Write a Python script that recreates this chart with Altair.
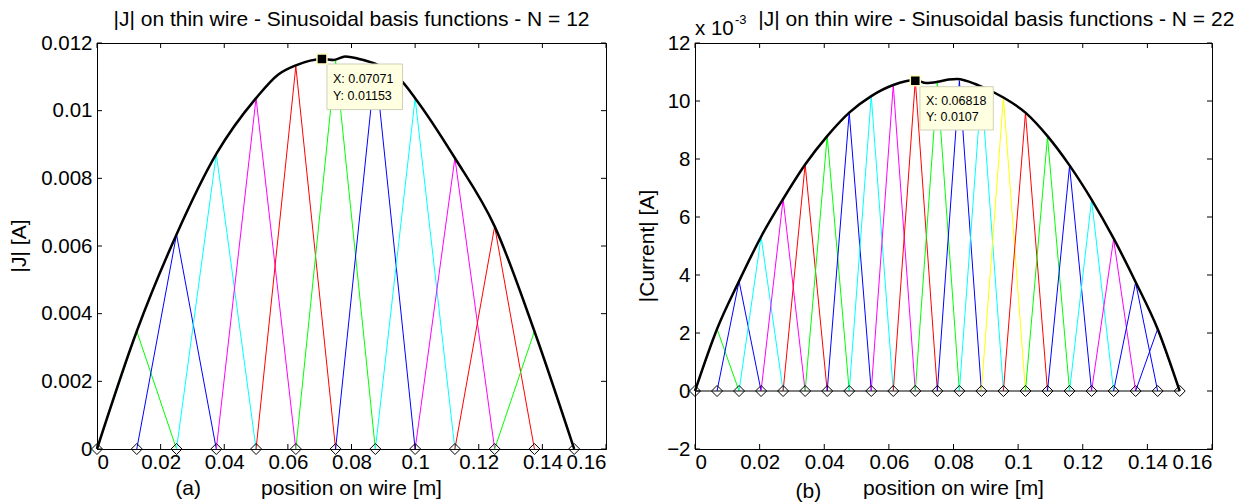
import altair as alt
import pandas as pd

FONT = "Liberation Sans"

# ---------------- data: panel (a), N = 12 ----------------
a_nodes = [0.0, 0.0125, 0.025, 0.0375, 0.05, 0.0625, 0.075, 0.0875, 0.1, 0.1125, 0.125, 0.1375, 0.15]
a_peaks = [0.00348, 0.00634, 0.00872, 0.01037, 0.01131, 0.01148, 0.01134, 0.01037, 0.0086, 0.00658, 0.00348]
a_colors = ["#00FF00", "#0000FF", "#00FFFF", "#FF00FF", "#FF0000", "#00FF00",
            "#0000FF", "#00FFFF", "#FF00FF", "#FF0000", "#00FF00"]
a_env_x = [0.0, 0.0125, 0.025, 0.0375, 0.05, 0.057, 0.0625, 0.07071, 0.0745, 0.078,
           0.0832, 0.0885, 0.0958, 0.1, 0.1125, 0.125, 0.1375, 0.15]
a_env_y = [0.0, 0.00348, 0.00634, 0.00872, 0.01037, 0.01107, 0.01134, 0.01153, 0.0115, 0.0116,
           0.01151, 0.01134, 0.01087, 0.01037, 0.0086, 0.00658, 0.00348, 0.0]
a_tip = [0.07071, 0.01153]
a_tip_text = ["X: 0.07071", "Y: 0.01153"]
a_x_ticks = [0, 0.02, 0.04, 0.06, 0.08, 0.1, 0.12, 0.14, 0.16]
a_y_ticks = [0, 0.002, 0.004, 0.006, 0.008, 0.01, 0.012]

# ---------------- data: panel (b), N = 22 (values in 1e-3 A) ----------------
b_nodes = [0.0, 0.00682, 0.01364, 0.02045, 0.02727, 0.03409, 0.04091, 0.04773, 0.05455, 0.06136,
           0.06818, 0.075, 0.08182, 0.08864, 0.09545, 0.10227, 0.10909, 0.11591, 0.12273, 0.12955,
           0.13636, 0.14318, 0.15]
b_peaks = [2.14, 3.79, 5.32, 6.62, 7.81, 8.79, 9.60, 10.17, 10.55, 10.72, 10.64,
           10.70, 10.45, 10.12, 9.60, 8.77, 7.76, 6.59, 5.24, 3.74, 2.14]
b_colors = ["#00FF00", "#0000FF", "#00FFFF", "#FF00FF", "#FF0000", "#00FF00", "#0000FF",
            "#00FFFF", "#FF00FF", "#FF0000", "#00FF00", "#0000FF", "#00FFFF", "#FFFF00",
            "#FF0000", "#00FF00", "#0000FF", "#00FFFF", "#FF00FF", "#0000FF", "#0000FF"]
b_env_x = [0.0, 0.00682, 0.01364, 0.02045, 0.02727, 0.03409, 0.04091, 0.04773, 0.05455, 0.06136,
           0.06818, 0.0716, 0.075, 0.0785, 0.0811, 0.0876, 0.09545, 0.10227, 0.10909, 0.11591,
           0.12273, 0.12955, 0.13636, 0.14318, 0.15]
b_env_y = [0.0, 2.14, 3.79, 5.32, 6.62, 7.81, 8.79, 9.60, 10.17, 10.55,
           10.72, 10.62, 10.66, 10.74, 10.76, 10.55, 10.12, 9.60, 8.79, 7.78,
           6.60, 5.26, 3.76, 2.14, 0.0]
b_tip = [0.06818, 10.7]
b_tip_text = ["X: 0.06818", "Y: 0.0107"]
b_x_ticks = [0, 0.02, 0.04, 0.06, 0.08, 0.1, 0.12, 0.14, 0.16]
b_y_ticks = [-2, 0, 2, 4, 6, 8, 10, 12]


def text_layer(txt, x, y, size=21, align="center", baseline="alphabetic", angle=0):
    kw = dict(font=FONT, fontSize=size, color="black", align=align, baseline=baseline)
    if angle:
        kw["angle"] = angle
    return alt.Chart(pd.DataFrame({"t": [txt]})).mark_text(**kw).encode(
        x=alt.value(x), y=alt.value(y), text="t:N")


def panel(nodes, peaks, colors, env_x, env_y, tip, tip_text, x_ticks, y_ticks, y_domain,
          W, H, title, title_dx, ytitle, ytitle_x, letter, letter_dx, letter_dy,
          box, zero_line=False, exponent=False):
    xs = alt.Scale(domain=[0, 0.16], nice=False, zero=False)
    ys = alt.Scale(domain=y_domain, nice=False, zero=False)
    xaxis = alt.Axis(values=x_ticks, format="~g", ticks=False, tickSize=0, labelPadding=3,
                     title=None, grid=False, domainColor="black", labelFont=FONT,
                     labelFontSize=20.5, labelColor="black")
    yaxis = alt.Axis(values=y_ticks, format="~g", ticks=False, tickSize=0, labelPadding=5,
                     title=None, grid=False, domainColor="black", labelFont=FONT,
                     labelFontSize=20.5, labelColor="black")

    rows = []
    for i, p in enumerate(peaks):
        pts = [(nodes[i], 0.0), (nodes[i + 1], p), (nodes[i + 2], 0.0)]
        for k, (xx, yy) in enumerate(pts):
            rows.append({"x": xx, "y": yy, "id": i, "k": k, "c": colors[i]})
    tri_df = pd.DataFrame(rows)

    base_x = alt.X("x:Q", scale=xs, axis=xaxis)
    base_y = alt.Y("y:Q", scale=ys, axis=yaxis)

    tri = alt.Chart(tri_df).mark_line(strokeWidth=1).encode(
        x=base_x, y=base_y, detail="id:N", color=alt.Color("c:N", scale=None), order="k:Q")

    env = alt.Chart(pd.DataFrame({"x": env_x, "y": env_y})).mark_line(
        color="black", strokeWidth=2.5, interpolate="monotone").encode(
        x=alt.X("x:Q", scale=xs), y=alt.Y("y:Q", scale=ys))

    node_df = pd.DataFrame({"x": nodes, "y": [0.0] * len(nodes)})
    layers = [tri, env]
    if zero_line:
        layers.append(alt.Chart(node_df).mark_line(color="black", strokeWidth=1).encode(
            x=alt.X("x:Q", scale=xs), y=alt.Y("y:Q", scale=ys)))
    diam = alt.Chart(node_df).mark_point(shape="diamond", filled=False, stroke="black",
                                         strokeWidth=1, size=121, opacity=1).encode(
        x=alt.X("x:Q", scale=xs), y=alt.Y("y:Q", scale=ys))
    layers.append(diam)

    # inward tick marks on all four sides
    xt = pd.DataFrame({"v": x_ticks})
    yt = pd.DataFrame({"v": y_ticks})
    tl = 5
    layers += [
        alt.Chart(xt).mark_rule(color="black", strokeWidth=1).encode(
            x=alt.X("v:Q", scale=xs), y=alt.value(H), y2=alt.value(H - tl)),
        alt.Chart(xt).mark_rule(color="black", strokeWidth=1).encode(
            x=alt.X("v:Q", scale=xs), y=alt.value(0), y2=alt.value(tl)),
        alt.Chart(yt).mark_rule(color="black", strokeWidth=1).encode(
            y=alt.Y("v:Q", scale=ys), x=alt.value(0), x2=alt.value(tl)),
        alt.Chart(yt).mark_rule(color="black", strokeWidth=1).encode(
            y=alt.Y("v:Q", scale=ys), x=alt.value(W - tl), x2=alt.value(W)),
    ]

    # data tip
    tip_df = pd.DataFrame({"x": [tip[0]], "y": [tip[1]], "l1": [tip_text[0]], "l2": [tip_text[1]]})
    bx0, bx1, by0, by1, tx, ty1, ty2 = box
    layers.append(alt.Chart(tip_df).mark_rect(
        fill="#FFFFE1", stroke="#CFCFB8", strokeWidth=1,
        xOffset=bx0, x2Offset=bx1, yOffset=by0, y2Offset=by1).encode(
        x=alt.X("x:Q", scale=xs), x2="x", y=alt.Y("y:Q", scale=ys), y2="y"))
    for fld, dy in (("l1", ty1), ("l2", ty2)):
        layers.append(alt.Chart(tip_df).mark_text(
            font=FONT, fontSize=12.5, color="black", align="left", baseline="middle",
            dx=tx, dy=dy).encode(x=alt.X("x:Q", scale=xs), y=alt.Y("y:Q", scale=ys),
                                 text=f"{fld}:N"))
    layers.append(alt.Chart(tip_df).mark_square(
        size=100, fill="black", stroke="#FFFFC0", strokeWidth=1.5, opacity=1).encode(
        x=alt.X("x:Q", scale=xs), y=alt.Y("y:Q", scale=ys)))

    # texts
    layers.append(text_layer(title, W / 2 + title_dx, -16.7))
    layers.append(text_layer(ytitle, ytitle_x, H / 2, angle=270, baseline="middle"))
    layers.append(text_layer("position on wire [m]", W / 2, H + 46.3))
    layers.append(text_layer(letter, letter_dx, H + letter_dy))
    if exponent:
        layers.append(text_layer("x 10", 0, -8.4, size=20.5, align="left"))
        layers.append(text_layer("-3", 40, -19.4, size=13, align="left"))

    return alt.layer(*layers).properties(width=W, height=H)


left = panel(a_nodes, a_peaks, a_colors, a_env_x, a_env_y, a_tip, a_tip_text,
             a_x_ticks, a_y_ticks, [0, 0.012], 509, 406,
             "|J| on thin wire - Sinusoidal basis functions - N = 12", 0,
             "|J| [A]", -76.6, "(a)", 91.2, 46.3,
             (5, 80.6, 5.1, 50.7, 11, 20, 37.4))
right = panel(b_nodes, b_peaks, b_colors, b_env_x, b_env_y, b_tip, b_tip_text,
              b_x_ticks, b_y_ticks, [-2, 12], 517, 406,
              "|J| on thin wire - Sinusoidal basis functions - N = 22", 42.8,
              "|Current| [A]", -46.7, "(b)", 113.3, 49.3,
              (4.6, 78, 6, 49.3, 10.6, 20, 36.7), zero_line=True, exponent=True)

chart = alt.hconcat(left, right, spacing=89, bounds="flush").properties(
    padding={"left": 0, "top": 0, "right": 5, "bottom": 0},
    background="white",
).configure_view(stroke="black", strokeWidth=1).configure_axis(domainWidth=1)

chart.save("out.html", embed_options={"renderer": "svg", "actions": False})
